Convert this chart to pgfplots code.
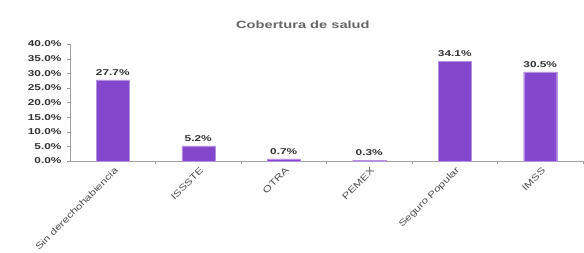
\documentclass[border=0pt]{standalone}
\usepackage{pgfplots}
\pgfplotsset{compat=1.18}
\usepackage{fontspec}
\setmainfont{Liberation Sans}
\newfontfamily\wide{Liberation Sans}[FakeStretch=1.4]
\newfontfamily\widecat{Liberation Sans}[FakeStretch=1.3]
\definecolor{barc}{RGB}{132,72,204}
\definecolor{axc}{RGB}{160,160,160}
\definecolor{txt}{RGB}{50,50,50}
\begin{document}
\begin{tikzpicture}[x=1bp,y=1bp]
\begin{axis}[
  width=513bp, height=117bp, scale only axis,
  xmin=-0.5, xmax=5.5, ymin=0, ymax=40,
  axis lines=left, axis line style={-, draw=axc},
  ytick={0,5,...,40},
  yticklabel={\pgfmathprintnumber[fixed,fixed zerofill,precision=1]{\tick}\%},
  yticklabel style={font=\wide\bfseries\fontsize{8.5}{9}\selectfont, text=txt, xshift=-2bp},
  /pgf/number format/assume math mode=true,
  xtick={0,...,5},
  xticklabels={Sin derechohabiencia,ISSSTE,OTRA,PEMEX,Seguro Popular,IMSS},
  xticklabel style={font=\widecat\fontsize{9}{10}\selectfont, text=black!70, rotate=45, anchor=east, inner sep=1bp, yshift=-6bp},
  x tick style={draw=none},
  minor xtick={0.5,1.5,...,5.5},
  minor tick length=3bp, major tick length=3bp,
  tick align=outside,
  tick style={draw=axc},
  ytick style={draw=axc},
  minor x tick style={draw=axc},
  ybar, bar width=33bp,
  nodes near coords={\pgfmathprintnumber[fixed,fixed zerofill,precision=1]{\pgfplotspointmeta}\%},
  nodes near coords style={font=\wide\bfseries\fontsize{8.5}{9}\selectfont, text=txt, yshift=1bp},
  title={Cobertura de salud},
  title style={font=\wide\bfseries\fontsize{10.5}{11}\selectfont, text=black!60, at={(0.454,1)}, anchor=south, yshift=6bp},
  clip=false,
]
\addplot[fill=barc, draw=barc!60] coordinates {(0,27.7) (1,5.2) (2,0.7) (3,0.3) (4,34.1) (5,30.5)};
\path (rel axis cs:-0.1365,-0.7265) rectangle (rel axis cs:1.002,1.376);
\end{axis}
\end{tikzpicture}
\end{document}
